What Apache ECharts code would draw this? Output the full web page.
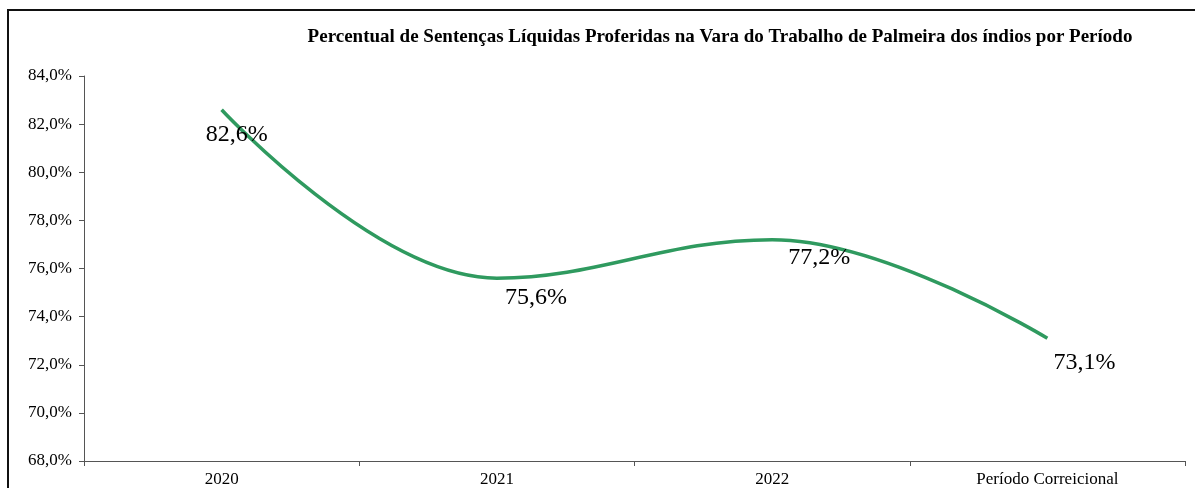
<!DOCTYPE html>
<html>
<head>
<meta charset="utf-8">
<script src="https://cdn.jsdelivr.net/npm/echarts@6/dist/echarts.min.js"></script>
<style>
html,body{margin:0;padding:0;background:#fff;}
#chart{width:1195px;height:488px;}
</style>
</head>
<body>
<div id="chart"></div>
<script>
var TITLE = 'Percentual de Sentenças Líquidas Proferidas na Vara do Trabalho de Palmeira dos índios por Período';
var categories = ['2020', '2021', '2022', 'Período Correicional'];
var values = [82.6, 75.6, 77.2, 73.1];
var yTicks = [68, 70, 72, 74, 76, 78, 80, 82, 84];

var labelOffsets = [[15, 25], [39, 20], [47, 18], [37, 24]];
var SERIF = '"Liberation Serif", "Times New Roman", "DejaVu Serif", serif';

var chart = echarts.init(document.getElementById('chart'));
chart.setOption({
  animation: false,
  backgroundColor: '#fff',
  title: {
    text: TITLE,
    left: 715, top: 23,
    textAlign: 'center',
    textStyle: {fontFamily: SERIF, fontWeight: 'bold', fontSize: 19, color: '#000'}
  },
  graphic: [{
    type: 'polyline',
    shape: {points: [[8, 500], [8, 10], [1200, 10]]},
    style: {stroke: '#111', lineWidth: 2, fill: null}
  }],
  grid: {left: 84, top: 76, width: 1101, height: 385, containLabel: false},
  xAxis: {
    type: 'category',
    data: categories,
    boundaryGap: true,
    axisLine: {lineStyle: {color: '#555', width: 1}},
    axisTick: {show: true, length: 5, lineStyle: {color: '#555'}},
    axisLabel: {fontFamily: SERIF, fontSize: 17, color: '#000', margin: 10}
  },
  yAxis: {
    type: 'value',
    min: yTicks[0], max: yTicks[yTicks.length - 1], interval: 2,
    splitLine: {show: false},
    axisLine: {show: true, lineStyle: {color: '#555', width: 1}},
    axisTick: {show: true, length: 5, lineStyle: {color: '#555'}},
    axisLabel: {
      fontFamily: SERIF, fontSize: 17, color: '#000', margin: 12,
      formatter: function (v) { return v.toFixed(1).replace('.', ',') + '%'; }
    }
  },
  series: [{
    type: 'line',
    smooth: 0.4,
    symbol: 'circle',
    symbolSize: 1,
    itemStyle: {color: 'rgba(0,0,0,0)'},
    lineStyle: {color: '#2f9a5f', width: 3.5},
    label: {
      show: true,
      position: 'inside',
      align: 'center',
      verticalAlign: 'middle',
      fontFamily: SERIF, fontSize: 24, color: '#000',
      formatter: function (p) { return p.value.toFixed(1).replace('.', ',') + '%'; }
    },
    data: values.map(function (v, i) {
      return {value: v, label: {offset: labelOffsets[i]}};
    })
  }]
});
</script>
</body>
</html>
